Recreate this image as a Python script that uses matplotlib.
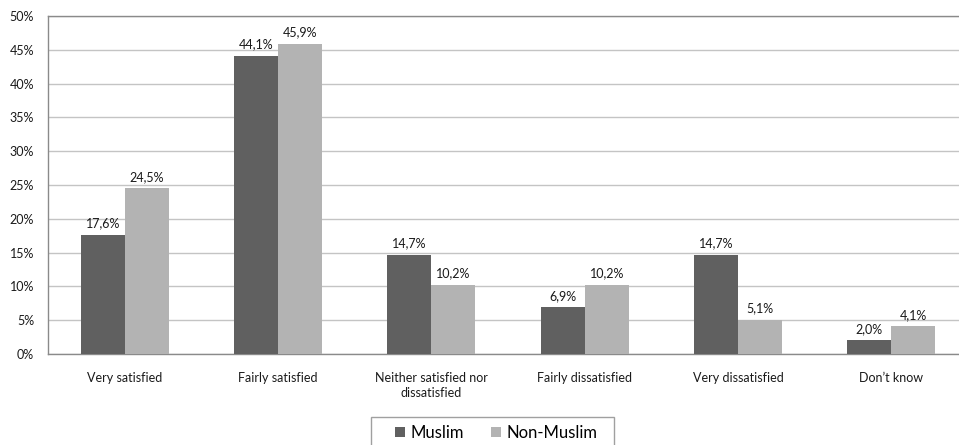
import matplotlib
matplotlib.use("Agg")
import matplotlib.pyplot as plt
from matplotlib.patches import Rectangle
import numpy as np

categories = ["Very satisfied", "Fairly satisfied", "Neither satisfied nor\ndissatisfied",
              "Fairly dissatisfied", "Very dissatisfied", "Don\u2019t know"]
series_names = ["Muslim", "Non-Muslim"]
muslim = [17.6, 44.1, 14.7, 6.9, 14.7, 2.0]
non_muslim = [24.5, 45.9, 10.2, 10.2, 5.1, 4.1]
yticks = [0, 5, 10, 15, 20, 25, 30, 35, 40, 45, 50]

colors = ["#606060", "#b3b3b3"]
plt.rcParams["font.family"] = ["Lato", "DejaVu Sans"]

W, H = 959, 445
fig = plt.figure(figsize=(W / 100, H / 100), dpi=100)
ax = fig.add_axes([48 / W, 91 / H, 920 / W, 338 / H])

x = np.arange(len(categories))
w = 0.287
for vals, off, col, name in [(muslim, -w / 2, colors[0], series_names[0]),
                             (non_muslim, w / 2, colors[1], series_names[1])]:
    bars = ax.bar(x + off, vals, width=w, color=col, label=name, zorder=3)
    for b, v in zip(bars, vals):
        ax.annotate(f"{v:.1f}%".replace(".", ","), (b.get_x() + b.get_width() / 2, v),
                    xytext=(0, 4), textcoords="offset points", ha="center", va="bottom",
                    fontsize=9, color="#1a1a1a")

ax.set_xlim(-0.5, len(categories) - 0.5)
ax.set_ylim(0, 50)
ax.set_yticks(yticks)
ax.set_yticklabels([f"{t}%" for t in yticks], fontsize=9, color="#1a1a1a")
ax.set_xticks(x)
ax.set_xticklabels(categories, fontsize=9, color="#1a1a1a", linespacing=1.3)
ax.tick_params(axis="both", length=0)
ax.tick_params(axis="x", pad=13)
ax.tick_params(axis="y", pad=10)
ax.grid(axis="y", color="#c4c4c4", linewidth=1.0, zorder=0)
for side in ["left", "bottom", "top"]:
    ax.spines[side].set_color("#8a8a8a")
    ax.spines[side].set_linewidth(1.0)
ax.spines["right"].set_visible(False)

# legend box outline
fig.patches.append(Rectangle((371 / W, -5 / H), 243 / W, 33 / H, transform=fig.transFigure,
                             fill=False, edgecolor="#a0a0a0", linewidth=1.0))
leg = fig.legend(loc="center", bbox_to_anchor=(496 / W, 12 / H), ncol=2,
                 frameon=False, fontsize=12, handlelength=0.6,
                 handleheight=0.6, handletextpad=0.35, columnspacing=1.6,
                 borderpad=0, borderaxespad=0)

fig.savefig("out.png", dpi=100)
